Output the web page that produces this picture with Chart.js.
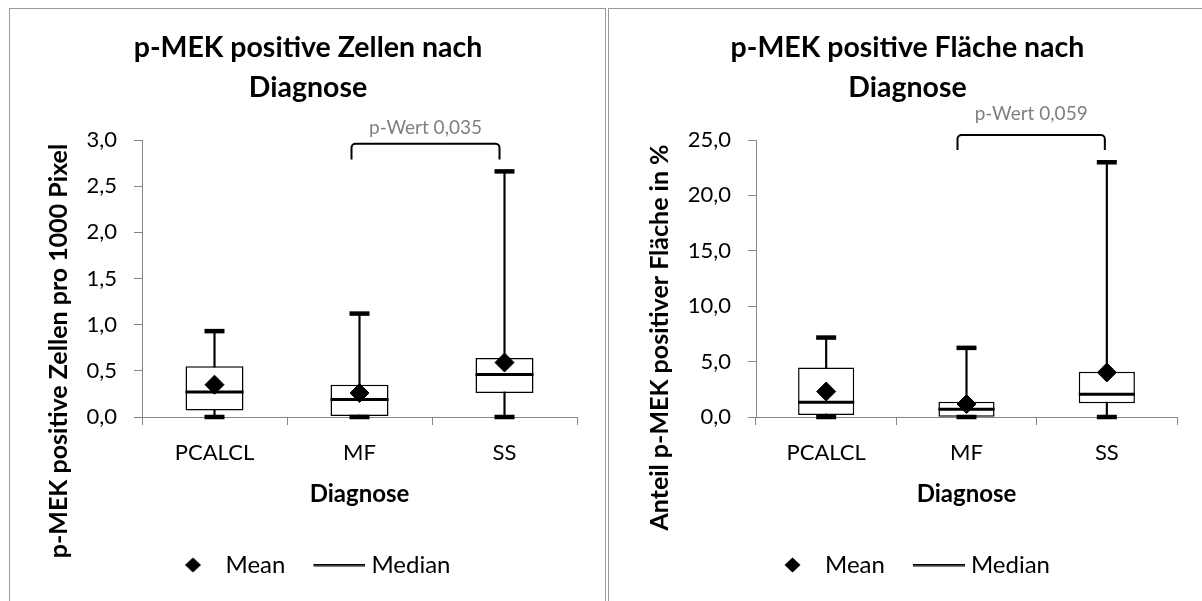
<!DOCTYPE html>
<html>
<head>
<meta charset="utf-8">
<script src="https://cdn.jsdelivr.net/npm/chart.js@4.4.1/dist/chart.umd.min.js"></script>
<style>
  body { margin: 0; width: 1202px; height: 601px; overflow: hidden; background: #fff; position: relative; }
  .frame { position: absolute; top: 8px; height: 640px; border: 1px solid #9a9a9a; box-sizing: border-box; }
  #frameLeft { left: 9px; width: 597px; }
  #frameRight { left: 608px; width: 640px; }
  .wrap { position: absolute; top: 0; height: 601px; }
  #wrapLeft { left: 39px; width: 566px; }
  #wrapRight { left: 638px; width: 564px; }
</style>
</head>
<body>
<div class="frame" id="frameLeft"></div>
<div class="frame" id="frameRight"></div>
<div class="wrap" id="wrapLeft"><canvas id="cellChart"></canvas></div>
<div class="wrap" id="wrapRight"><canvas id="areaChart"></canvas></div>
<script>
var categories = ['PCALCL', 'MF', 'SS'];

// p-MEK positive Zellen pro 1000 Pixel
var cellMin = [0, 0, 0];
var cellQ1 = [0.07, 0.01, 0.26];
var cellMedian = [0.27, 0.19, 0.46];
var cellQ3 = [0.55, 0.35, 0.64];
var cellMax = [0.93, 1.12, 2.66];
var cellMean = [0.35, 0.26, 0.59];

// Anteil p-MEK positiver Fläche in %
var areaMin = [0, 0, 0];
var areaQ1 = [0.18, 0.03, 1.25];
var areaMedian = [1.34, 0.69, 2.06];
var areaQ3 = [4.47, 1.38, 4.09];
var areaMax = [7.17, 6.24, 22.99];
var areaMean = [2.3, 1.17, 4.02];

var cellTicks = { max: 3, step: 0.5 };
var areaTicks = { max: 25, step: 5 };

Chart.defaults.font.family = 'Lato';
Chart.defaults.color = '#000';

function pair(a, b) {
    return a.map(function(v, i) { return [v, b[i]]; });
}

// Legendensymbole
function diamondIcon() {
    var c = document.createElement('canvas');
    c.width = 48; c.height = 18;
    var g = c.getContext('2d');
    g.fillStyle = '#000';
    g.beginPath();
    g.moveTo(27.5, 1.5); g.lineTo(35.5, 9); g.lineTo(27.5, 16.5); g.lineTo(19.5, 9);
    g.closePath(); g.fill();
    return c;
}
function lineIcon() {
    var c = document.createElement('canvas');
    c.width = 60; c.height = 3;
    var g = c.getContext('2d');
    g.fillStyle = '#000';
    g.fillRect(8, 0, 52, 2.5);
    return c;
}
var meanIcon = diamondIcon();
var medianIcon = lineIcon();

// Achsentitel, Klammer und p-Wert
var annotate = {
    id: 'annotate',
    afterDraw: function(chart, args, o) {
        var ctx = chart.ctx, xs = chart.scales.x, ys = chart.scales.y;
        ctx.save();
        ctx.translate(o.yTitleX, o.yTitleY);
        ctx.rotate(-Math.PI / 2);
        ctx.font = 'bold 25px Lato';
        ctx.fillStyle = '#000';
        ctx.textAlign = 'center';
        ctx.textBaseline = 'middle';
        ctx.fillText(o.yTitle, 0, 0);
        ctx.restore();

        var x1 = xs.getPixelForValue(o.from) + o.dx1;
        var x2 = xs.getPixelForValue(o.to) + o.dx2;
        var yt = ys.getPixelForValue(o.top);
        var ye = ys.getPixelForValue(o.end);
        var r = 4;
        ctx.save();
        ctx.strokeStyle = '#000';
        ctx.lineWidth = 2;
        ctx.beginPath();
        ctx.moveTo(x1, ye);
        ctx.arcTo(x1, yt, x1 + r, yt, r);
        ctx.arcTo(x2, yt, x2, yt + r, r);
        ctx.lineTo(x2, ye);
        ctx.stroke();
        ctx.font = '19px Lato';
        ctx.fillStyle = '#7f7f7f';
        ctx.textAlign = 'center';
        ctx.textBaseline = 'middle';
        ctx.fillText(o.label, (x1 + x2) / 2, yt - o.labelGap);
        ctx.restore();
    }
};

function fmt(v) {
    return v.toFixed(1).replace('.', ',');
}

function boxChart(id, title, d, ticks, yWidth, padRight, note) {
    var ctx = document.getElementById(id).getContext('2d');
    return new Chart(ctx, {
        type: 'bar',
        data: {
            labels: categories,
            datasets: [{
                type: 'line',
                label: 'Mean',
                data: d.mean,
                showLine: false,
                pointStyle: 'rectRot',
                pointRadius: 9.5,
                pointBackgroundColor: '#000',
                pointBorderColor: '#000',
                pointBorderWidth: 1,
                clip: false
            }, {
                type: 'line',
                label: 'Median',
                data: d.median,
                showLine: false,
                pointStyle: 'line',
                pointRadius: function(c) { return c.chart.scales.x.width / categories.length * 0.4 / 2; },
                pointBorderColor: '#000',
                pointBorderWidth: 3,
                clip: false
            }, {
                type: 'line',
                label: 'Max',
                data: d.max,
                showLine: false,
                pointStyle: 'line',
                pointRadius: 10,
                pointBorderColor: '#000',
                pointBorderWidth: 4.5,
                clip: false
            }, {
                type: 'line',
                label: 'Min',
                data: d.min,
                showLine: false,
                pointStyle: 'line',
                pointRadius: 10,
                pointBorderColor: '#000',
                pointBorderWidth: 4.5,
                clip: false
            }, {
                label: 'Box',
                data: pair(d.q1, d.q3),
                backgroundColor: '#fff',
                borderColor: '#000',
                borderWidth: 1.5,
                borderSkipped: false,
                barPercentage: 0.4,
                categoryPercentage: 1,
                grouped: false
            }, {
                label: 'Whisker',
                data: pair(d.min, d.max),
                backgroundColor: '#000',
                barThickness: 1.5,
                grouped: false
            }]
        },
        options: {
            responsive: true,
            maintainAspectRatio: false,
            animation: false,
            events: [],
            layout: { padding: { left: 0, right: padRight, top: 0, bottom: 14 } },
            scales: {
                x: {
                    offset: true,
                    grid: { offset: true, drawOnChartArea: false, tickLength: 8, color: '#868686' },
                    border: { color: '#868686' },
                    ticks: { font: { size: 22 }, padding: 15 },
                    title: { display: true, text: 'Diagnose', font: { size: 24, weight: 'bold' }, padding: { top: 0, bottom: 18 } },
                    afterFit: function(s) { s.height = 110; }
                },
                y: {
                    min: 0,
                    max: ticks.max,
                    grid: { drawOnChartArea: false, tickLength: 8, color: '#868686' },
                    border: { color: '#868686' },
                    ticks: { stepSize: ticks.step, font: { size: 22 }, padding: 17, callback: fmt },
                    afterFit: function(s) { s.width = yWidth; }
                }
            },
            plugins: {
                title: {
                    display: true,
                    text: title,
                    font: { size: 28.5, weight: 'bold', lineHeight: 40 / 28.5 },
                    color: '#000',
                    padding: { top: 28, bottom: 32 }
                },
                legend: {
                    position: 'bottom',
                    labels: {
                        usePointStyle: true,
                        pointStyleWidth: 48,
                        font: { size: 24 },
                        padding: 26,
                        generateLabels: function() {
                            return [
                                { text: 'Mean', pointStyle: meanIcon, fillStyle: '#000', strokeStyle: '#000', lineWidth: 0, hidden: false, datasetIndex: 0 },
                                { text: 'Median', pointStyle: medianIcon, fillStyle: '#000', strokeStyle: '#000', lineWidth: 0, hidden: false, datasetIndex: 1 }
                            ];
                        }
                    }
                },
                tooltip: { enabled: false },
                annotate: note
            }
        },
        plugins: [annotate]
    });
}

boxChart('cellChart', ['p-MEK positive Zellen nach', 'Diagnose'],
    { min: cellMin, q1: cellQ1, median: cellMedian, q3: cellQ3, max: cellMax, mean: cellMean },
    cellTicks, 103, 28,
    { yTitle: 'p-MEK positive Zellen pro 1000 Pixel', yTitleX: 20, yTitleY: 351,
      from: 1, to: 2, dx1: -8, dx2: -5, top: 2.96, end: 2.79, label: 'p-Wert 0,035', labelGap: 16 });

boxChart('areaChart', ['p-MEK positive Fläche nach', 'Diagnose'],
    { min: areaMin, q1: areaQ1, median: areaMedian, q3: areaQ3, max: areaMax, mean: areaMean },
    areaTicks, 118, 25,
    { yTitle: 'Anteil p-MEK positiver Fläche in %', yTitleX: 21.5, yTitleY: 337.5,
      from: 1, to: 2, dx1: -9, dx2: -2, top: 25.45, end: 24.1, label: 'p-Wert 0,059', labelGap: 21 });
</script>
</body>
</html>
